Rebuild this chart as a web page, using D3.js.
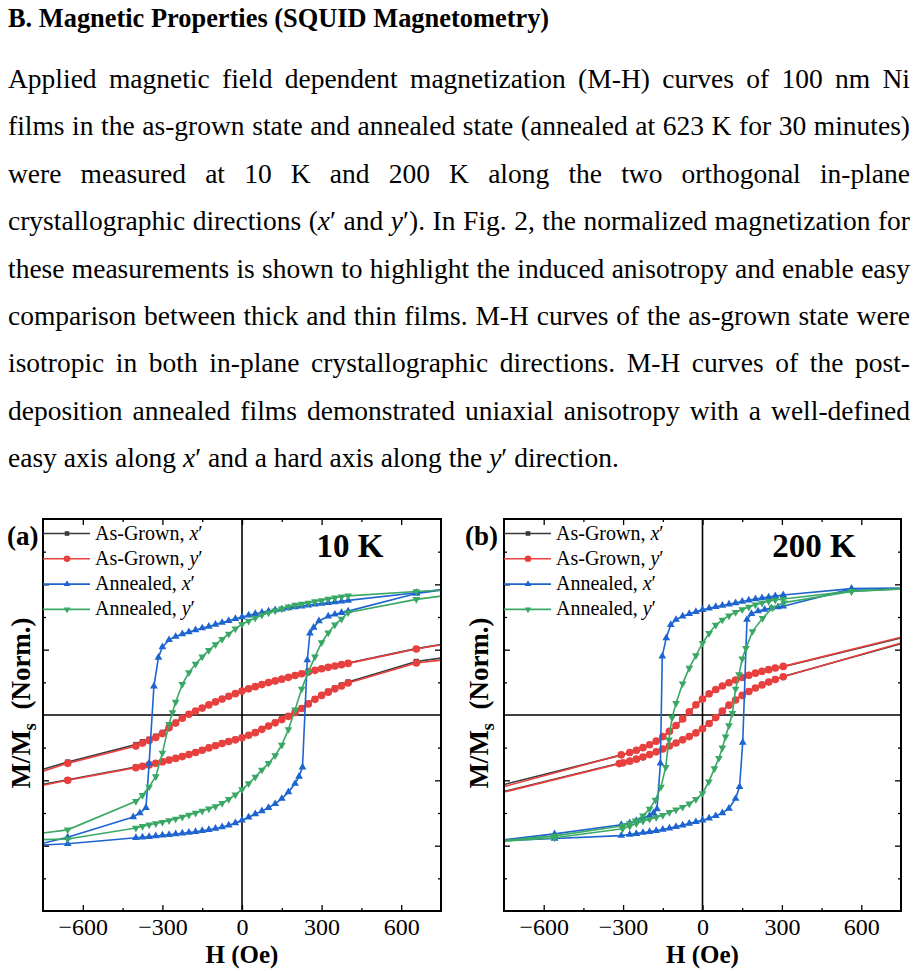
<!DOCTYPE html>
<html>
<head>
<meta charset="utf-8">
<script src="https://cdn.jsdelivr.net/npm/d3@7"></script>
<style>
  body { margin: 0; background: #fff; width: 917px; height: 971px; overflow: hidden; }
  svg { display: block; }
</style>
</head>
<body>
<script>
// ---- text of the page ----
var headline = "B. Magnetic Properties (SQUID Magnetometry)";
var bodyLines = [
  "Applied magnetic field dependent magnetization (M-H) curves of 100 nm Ni",
  "films in the as-grown state and annealed state (annealed at 623 K for 30 minutes)",
  "were measured at 10 K and 200 K along the two orthogonal in-plane",
  "crystallographic directions (<i>x</i>′ and <i>y</i>′). In Fig. 2, the normalized magnetization for",
  "these measurements is shown to highlight the induced anisotropy and enable easy",
  "comparison between thick and thin films. M-H curves of the as-grown state were",
  "isotropic in both in-plane crystallographic directions. M-H curves of the post-",
  "deposition annealed films demonstrated uniaxial anisotropy with a well-defined",
  "easy axis along <i>x</i>′ and a hard axis along the <i>y</i>′ direction."
];

// ---- chart categories / ticks ----
var temps = ["10 K", "200 K"];
var panelTags = ["(a)", "(b)"];
var seriesState = ["As-Grown", "As-Grown", "Annealed", "Annealed"];
var seriesDir = ["x", "y", "x", "y"];
var fieldTicks = [-600, -300, 0, 300, 600];
var fieldMinor = [-450, -150, 150, 450];
var normTicks = [-1, -0.5, 0.5, 1];
var normMinor = [-1.25, -0.75, -0.25, 0.25, 0.75, 1.25];

// ---- 10 K loops [H (Oe), M/Ms] ----
var agX10Down = [[750,0.54],[657,0.508],[400,0.397],[375,0.387],[350,0.377],[325,0.367],[300,0.356],[275,0.344],[250,0.332],[225,0.318],[200,0.304],[175,0.29],[150,0.276],[125,0.263],[100,0.25],[75,0.235],[50,0.219],[25,0.202],[0,0.185],[-25,0.165],[-50,0.145],[-75,0.124],[-100,0.102],[-125,0.079],[-150,0.055],[-175,0.032],[-200,0.008],[-225,-0.02],[-250,-0.056],[-275,-0.09],[-300,-0.133],[-325,-0.162],[-350,-0.185],[-375,-0.204],[-400,-0.226],[-657,-0.36],[-750,-0.415]];
var agX10Up = [[-750,-0.53],[-657,-0.495],[-400,-0.398],[-375,-0.388],[-350,-0.378],[-325,-0.366],[-300,-0.354],[-275,-0.341],[-250,-0.328],[-225,-0.314],[-200,-0.299],[-175,-0.283],[-150,-0.266],[-125,-0.248],[-100,-0.231],[-75,-0.214],[-50,-0.199],[-25,-0.186],[0,-0.171],[25,-0.151],[50,-0.131],[75,-0.106],[100,-0.081],[125,-0.056],[150,-0.031],[175,-0.006],[200,0.025],[225,0.055],[250,0.09],[275,0.125],[300,0.156],[325,0.182],[350,0.207],[375,0.23],[400,0.253],[657,0.41],[750,0.435]];
var agY10Down = [[750,0.538],[657,0.505],[400,0.395],[375,0.385],[350,0.375],[325,0.365],[300,0.354],[275,0.342],[250,0.33],[225,0.316],[200,0.302],[175,0.288],[150,0.274],[125,0.261],[100,0.248],[75,0.233],[50,0.217],[25,0.2],[0,0.183],[-25,0.163],[-50,0.143],[-75,0.122],[-100,0.1],[-125,0.077],[-150,0.053],[-175,0.03],[-200,0.005],[-225,-0.025],[-250,-0.062],[-275,-0.098],[-300,-0.142],[-325,-0.172],[-350,-0.196],[-375,-0.215],[-400,-0.238],[-657,-0.37],[-750,-0.43]];
var agY10Up = [[-750,-0.538],[-657,-0.5],[-400,-0.403],[-375,-0.393],[-350,-0.382],[-325,-0.37],[-300,-0.358],[-275,-0.345],[-250,-0.332],[-225,-0.318],[-200,-0.303],[-175,-0.287],[-150,-0.27],[-125,-0.252],[-100,-0.235],[-75,-0.218],[-50,-0.203],[-25,-0.19],[0,-0.175],[25,-0.155],[50,-0.135],[75,-0.11],[100,-0.085],[125,-0.06],[150,-0.035],[175,-0.01],[200,0.02],[225,0.05],[250,0.085],[275,0.12],[300,0.15],[325,0.175],[350,0.2],[375,0.222],[400,0.245],[657,0.398],[750,0.42]];
var anX10Down = [[750,0.96],[657,0.935],[400,0.877],[375,0.871],[350,0.865],[325,0.859],[300,0.853],[275,0.847],[250,0.84],[225,0.833],[200,0.826],[175,0.818],[150,0.81],[125,0.803],[100,0.795],[75,0.785],[50,0.775],[25,0.763],[0,0.75],[-25,0.737],[-50,0.722],[-75,0.707],[-100,0.692],[-125,0.678],[-150,0.665],[-175,0.65],[-200,0.635],[-225,0.62],[-250,0.6],[-275,0.575],[-300,0.52],[-315,0.44],[-332,0.22],[-350,-0.37],[-362,-0.71],[-385,-0.75],[-410,-0.78],[-657,-0.935],[-750,-0.982]];
var anX10Up = [[-750,-0.995],[-657,-0.985],[-400,-0.94],[-375,-0.936],[-350,-0.931],[-325,-0.926],[-300,-0.921],[-275,-0.916],[-250,-0.911],[-225,-0.905],[-200,-0.899],[-175,-0.893],[-150,-0.886],[-125,-0.878],[-100,-0.868],[-75,-0.857],[-50,-0.843],[-25,-0.826],[0,-0.805],[25,-0.782],[50,-0.758],[75,-0.735],[100,-0.71],[125,-0.68],[150,-0.64],[175,-0.59],[200,-0.525],[215,-0.47],[228,-0.4],[246,0.42],[256,0.625],[270,0.67],[290,0.72],[325,0.756],[350,0.77],[375,0.782],[400,0.795],[657,0.93],[750,0.955]];
var anY10Down = [[750,0.955],[657,0.945],[400,0.912],[375,0.905],[350,0.897],[325,0.888],[300,0.877],[275,0.868],[250,0.858],[225,0.85],[200,0.841],[175,0.828],[150,0.813],[125,0.798],[100,0.782],[75,0.765],[50,0.743],[25,0.72],[0,0.695],[-25,0.66],[-50,0.62],[-75,0.58],[-100,0.54],[-125,0.495],[-150,0.445],[-175,0.39],[-200,0.325],[-225,0.235],[-250,0.1],[-262,0.02],[-275,-0.07],[-300,-0.29],[-325,-0.47],[-350,-0.55],[-375,-0.615],[-400,-0.66],[-657,-0.879],[-750,-0.903]];
var anY10Up = [[-750,-0.954],[-657,-0.949],[-400,-0.865],[-375,-0.851],[-350,-0.84],[-325,-0.83],[-300,-0.82],[-275,-0.808],[-250,-0.795],[-225,-0.78],[-200,-0.765],[-175,-0.75],[-150,-0.735],[-125,-0.718],[-100,-0.7],[-75,-0.675],[-50,-0.645],[-25,-0.61],[0,-0.57],[25,-0.525],[50,-0.475],[75,-0.42],[100,-0.37],[125,-0.31],[150,-0.23],[175,-0.11],[200,0.04],[225,0.2],[250,0.33],[275,0.445],[300,0.555],[325,0.63],[350,0.69],[375,0.735],[400,0.785],[657,0.885],[750,0.91]];

// ---- 200 K loops [H (Oe), M/Ms] ----
var agX200Down = [[750,0.59],[305,0.37],[275,0.358],[250,0.345],[225,0.332],[200,0.318],[175,0.302],[150,0.285],[125,0.266],[100,0.245],[75,0.22],[50,0.193],[25,0.16],[0,0.12],[-25,0.076],[-50,0.023],[-75,-0.032],[-100,-0.082],[-125,-0.127],[-150,-0.167],[-175,-0.202],[-200,-0.23],[-225,-0.252],[-250,-0.272],[-275,-0.289],[-307,-0.307],[-750,-0.532]];
var agX200Up = [[-750,-0.585],[-314,-0.37],[-300,-0.364],[-275,-0.351],[-250,-0.336],[-225,-0.32],[-200,-0.301],[-175,-0.28],[-150,-0.258],[-125,-0.235],[-100,-0.212],[-75,-0.188],[-50,-0.163],[-25,-0.135],[0,-0.103],[25,-0.063],[50,-0.018],[75,0.032],[100,0.077],[125,0.117],[150,0.152],[175,0.182],[200,0.209],[225,0.232],[250,0.254],[275,0.274],[305,0.294],[750,0.545]];
var agY200Down = [[750,0.595],[305,0.372],[275,0.36],[250,0.347],[225,0.334],[200,0.32],[175,0.304],[150,0.287],[125,0.268],[100,0.247],[75,0.222],[50,0.195],[25,0.162],[0,0.122],[-25,0.078],[-50,0.025],[-75,-0.03],[-100,-0.08],[-125,-0.125],[-150,-0.165],[-175,-0.2],[-200,-0.228],[-225,-0.25],[-250,-0.27],[-275,-0.287],[-307,-0.305],[-750,-0.548]];
var agY200Up = [[-750,-0.59],[-314,-0.372],[-300,-0.366],[-275,-0.353],[-250,-0.338],[-225,-0.322],[-200,-0.303],[-175,-0.282],[-150,-0.26],[-125,-0.237],[-100,-0.214],[-75,-0.19],[-50,-0.165],[-25,-0.137],[0,-0.105],[25,-0.065],[50,-0.02],[75,0.03],[100,0.075],[125,0.115],[150,0.15],[175,0.18],[200,0.207],[225,0.23],[250,0.252],[275,0.272],[305,0.292],[750,0.551]];
var anX200Down = [[750,0.97],[563,0.967],[305,0.918],[275,0.91],[250,0.902],[225,0.895],[200,0.887],[175,0.878],[150,0.868],[125,0.858],[100,0.848],[75,0.838],[50,0.828],[25,0.817],[0,0.805],[-25,0.79],[-50,0.775],[-75,0.755],[-100,0.73],[-120,0.69],[-137,0.59],[-152,0.45],[-159,-0.37],[-172,-0.72],[-185,-0.75],[-200,-0.77],[-225,-0.79],[-250,-0.81],[-275,-0.827],[-307,-0.84],[-559,-0.91],[-750,-0.955]];
var anX200Up = [[-750,-0.962],[-559,-0.945],[-307,-0.923],[-275,-0.915],[-250,-0.908],[-225,-0.9],[-200,-0.893],[-175,-0.885],[-150,-0.876],[-125,-0.866],[-100,-0.855],[-75,-0.843],[-50,-0.83],[-25,-0.818],[0,-0.805],[25,-0.79],[50,-0.772],[75,-0.75],[100,-0.715],[125,-0.64],[140,-0.55],[152,-0.21],[168,0.73],[185,0.775],[210,0.795],[235,0.808],[260,0.818],[285,0.827],[305,0.833],[563,0.965],[750,0.97]];
var anY200Down = [[750,0.965],[563,0.948],[305,0.888],[275,0.88],[250,0.87],[225,0.857],[200,0.843],[175,0.826],[150,0.807],[125,0.786],[100,0.76],[75,0.728],[50,0.688],[25,0.625],[0,0.55],[-25,0.455],[-50,0.36],[-75,0.24],[-100,0.09],[-115,-0.02],[-127,-0.19],[-139,-0.4],[-157,-0.55],[-178,-0.65],[-200,-0.72],[-225,-0.77],[-253,-0.81],[-275,-0.83],[-300,-0.848],[-559,-0.925],[-750,-0.96]];
var anY200Up = [[-750,-0.965],[-559,-0.94],[-302,-0.87],[-275,-0.852],[-250,-0.83],[-225,-0.812],[-200,-0.797],[-175,-0.782],[-150,-0.767],[-125,-0.745],[-100,-0.725],[-75,-0.705],[-50,-0.68],[-25,-0.645],[0,-0.6],[24,-0.51],[45,-0.41],[62,-0.33],[75,-0.25],[87,-0.167],[100,-0.08],[113,0.013],[125,0.2],[138,0.31],[150,0.43],[164,0.51],[189,0.64],[227,0.74],[264,0.82],[308,0.86],[563,0.945],[750,0.965]];

var panelLoops = [
  [[agX10Down, agX10Up], [agY10Down, agY10Up], [anX10Down, anX10Up], [anY10Down, anY10Up]],
  [[agX200Down, agX200Up], [agY200Down, agY200Up], [anX200Down, anX200Up], [anY200Down, anY200Up]]
];

var colors = ["#3a3a3a", "#e8403e", "#1e64d0", "#3aa865"];
var symbolTypes = [d3.symbolSquare, d3.symbolCircle, d3.symbolTriangle, d3.symbolTriangle];
var symbolSizes = [28, 46, 26, 26];
var symbolTurn = [0, 0, 0, 180];

var serif = "Liberation Serif, Times New Roman, serif";

// panel placement
var boxes = [
  {left: 43, right: 441, tagX: 7, titleX: 350, ylabX: 30},
  {left: 504, right: 901, tagX: 465, titleX: 814, ylabX: 488}
];
var plotTop = 519, plotBottom = 911;

var svg = d3.select("body").append("svg").attr("width", 917).attr("height", 971);

// ---- text block (justified by hand, word by word) ----
svg.append("text").attr("x", 8).attr("y", 27).attr("font-size", 26.4).attr("font-weight", "bold")
  .attr("font-family", serif).text(headline);

var bodySize = 27.5;
bodyLines.forEach(function(line, i) {
  var words = line.split(" ");
  var base = 88 + 47.4 * i;
  var nodes = words.map(function(w) {
    var t = svg.append("text").attr("y", base).attr("font-size", bodySize).attr("font-family", serif);
    w.split(/(<i>.*?<\/i>)/).filter(Boolean).forEach(function(part) {
      var m = part.match(/^<i>(.*)<\/i>$/);
      t.append("tspan").attr("font-style", m ? "italic" : null).text(m ? m[1] : part);
    });
    return t;
  });
  var widths = nodes.map(function(n) { return n.node().getComputedTextLength(); });
  var last = i === bodyLines.length - 1;
  var gap = last ? bodySize * 0.25 : (902 - d3.sum(widths)) / (words.length - 1);
  var xPos = 8;
  nodes.forEach(function(n, k) { n.attr("x", xPos); xPos += widths[k] + gap; });
});

// ---- charts ----
boxes.forEach(function(b, p) {
  var x = d3.scaleLinear().domain([-750, 750]).range([b.left, b.right]);
  var y = d3.scaleLinear().domain([-1.5, 1.5]).range([plotBottom, plotTop]);
  var g = svg.append("g");

  g.append("clipPath").attr("id", "clip" + p)
    .append("rect").attr("x", b.left).attr("y", plotTop)
    .attr("width", b.right - b.left).attr("height", plotBottom - plotTop);

  // zero lines
  g.append("line").attr("x1", b.left).attr("x2", b.right).attr("y1", y(0)).attr("y2", y(0))
    .attr("stroke", "#000").attr("stroke-width", 1.6);
  g.append("line").attr("x1", x(0)).attr("x2", x(0)).attr("y1", plotTop).attr("y2", plotBottom)
    .attr("stroke", "#000").attr("stroke-width", 1.6);

  var line = d3.line().x(function(d) { return x(d[0]); }).y(function(d) { return y(d[1]); });
  var data = g.append("g").attr("clip-path", "url(#clip" + p + ")");

  panelLoops[p].forEach(function(loop, s) {
    loop.forEach(function(branch) {
      data.append("path").datum(branch).attr("d", line)
        .attr("fill", "none").attr("stroke", colors[s]).attr("stroke-width", 1.6);
    });
    var sym = d3.symbol().type(symbolTypes[s]).size(symbolSizes[s]);
    loop.forEach(function(branch) {
      data.selectAll(null).data(branch.filter(function(d) { return Math.abs(d[0]) < 740; }))
        .enter().append("path")
        .attr("d", sym)
        .attr("transform", function(d) { return "translate(" + x(d[0]) + "," + y(d[1]) + ") rotate(" + symbolTurn[s] + ")"; })
        .attr("fill", colors[s]);
    });
  });

  // axes, ticks inward
  function styleAxis(sel) {
    sel.select(".domain").remove();
    sel.selectAll(".tick line").attr("stroke", "#000").attr("stroke-width", 1.3);
    sel.attr("font-family", serif).attr("font-size", 24);
    sel.selectAll("text").attr("fill", "#000");
  }
  g.append("g").attr("transform", "translate(0," + plotBottom + ")")
    .call(d3.axisBottom(x).tickValues(fieldTicks).tickSizeInner(-6).tickSizeOuter(0).tickPadding(7)).call(styleAxis);
  g.append("g").attr("transform", "translate(0," + plotBottom + ")")
    .call(d3.axisBottom(x).tickValues(fieldMinor).tickSize(-3).tickFormat("")).call(styleAxis);
  g.append("g").attr("transform", "translate(0," + plotTop + ")")
    .call(d3.axisTop(x).tickValues(fieldTicks).tickSize(-6).tickFormat("")).call(styleAxis);
  g.append("g").attr("transform", "translate(0," + plotTop + ")")
    .call(d3.axisTop(x).tickValues(fieldMinor).tickSize(-3).tickFormat("")).call(styleAxis);
  g.append("g").attr("transform", "translate(" + b.left + ",0)")
    .call(d3.axisLeft(y).tickValues(normTicks).tickSize(-6).tickFormat("")).call(styleAxis);
  g.append("g").attr("transform", "translate(" + b.left + ",0)")
    .call(d3.axisLeft(y).tickValues(normMinor).tickSize(-3).tickFormat("")).call(styleAxis);
  g.append("g").attr("transform", "translate(" + b.right + ",0)")
    .call(d3.axisRight(y).tickValues(normTicks).tickSize(-6).tickFormat("")).call(styleAxis);
  g.append("g").attr("transform", "translate(" + b.right + ",0)")
    .call(d3.axisRight(y).tickValues(normMinor).tickSize(-3).tickFormat("")).call(styleAxis);

  // frame
  g.append("rect").attr("x", b.left).attr("y", plotTop)
    .attr("width", b.right - b.left).attr("height", plotBottom - plotTop)
    .attr("fill", "none").attr("stroke", "#000").attr("stroke-width", 2);

  // legend
  seriesState.forEach(function(name, s) {
    var ly = 533.5 + 25.3 * s;
    g.append("line").attr("x1", b.left).attr("x2", b.left + 47).attr("y1", ly).attr("y2", ly)
      .attr("stroke", colors[s]).attr("stroke-width", 1.6);
    g.append("path").attr("d", d3.symbol().type(symbolTypes[s]).size(symbolSizes[s] * 0.75))
      .attr("transform", "translate(" + (b.left + 24) + "," + ly + ") rotate(" + symbolTurn[s] + ")")
      .attr("fill", colors[s]);
    var t = g.append("text").attr("x", b.left + 52).attr("y", ly + 6)
      .attr("font-size", 20).attr("font-family", serif);
    t.append("tspan").text(name + ", ");
    t.append("tspan").attr("font-style", "italic").text(seriesDir[s]);
    t.append("tspan").text("′");
  });

  // panel tag and temperature
  g.append("text").attr("x", b.tagX).attr("y", 545).attr("font-size", 27).attr("font-weight", "bold")
    .attr("font-family", serif).text(panelTags[p]);
  g.append("text").attr("x", b.titleX).attr("y", 557).attr("text-anchor", "middle")
    .attr("font-size", 33).attr("font-weight", "bold")
    .attr("font-family", serif).text(temps[p]);

  // axis titles
  g.append("text").attr("x", (b.left + b.right) / 2).attr("y", 963).attr("text-anchor", "middle")
    .attr("font-size", 25).attr("font-weight", "bold")
    .attr("font-family", serif).text("H (Oe)");
  var yl = g.append("text").attr("transform", "translate(" + b.ylabX + ",703) rotate(-90)")
    .attr("text-anchor", "middle").attr("font-size", 27).attr("font-weight", "bold")
    .attr("font-family", serif);
  yl.append("tspan").text("M/M");
  yl.append("tspan").attr("font-size", 18).attr("dy", 6).text("s");
  yl.append("tspan").attr("dy", -6).text("\u00a0\u00a0(Norm.)");
});
</script>
</body>
</html>
